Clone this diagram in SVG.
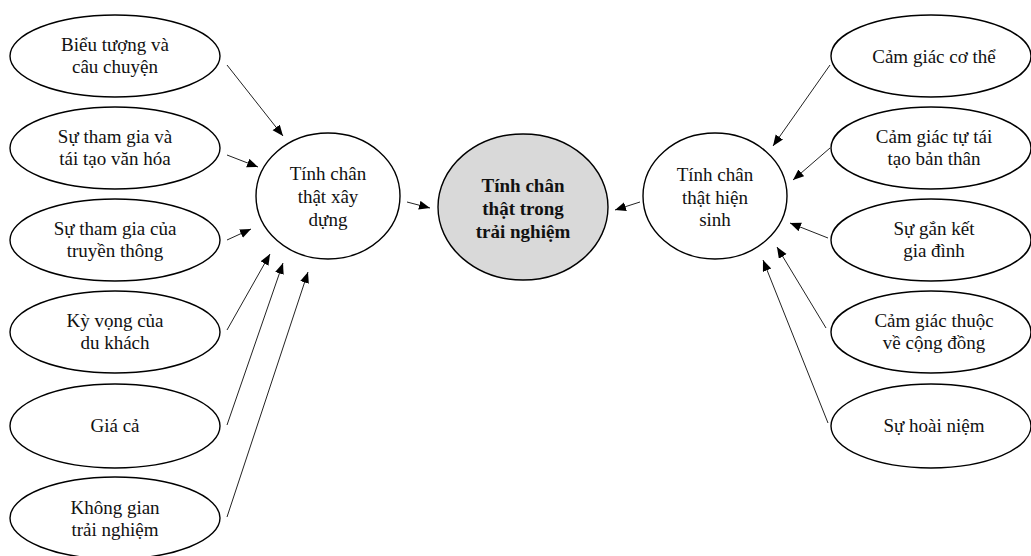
<svg xmlns="http://www.w3.org/2000/svg" width="1031" height="556" viewBox="0 0 1031 556">
<style>
.n{fill:#fff;stroke:#000;stroke-width:1.4}
.c{fill:#d9d9d9;stroke:#000;stroke-width:1.4}
text{font-family:"Liberation Serif","Times New Roman",serif;font-size:19px;fill:#111;text-anchor:middle}
.b{font-weight:bold}
.e line{stroke:#222;stroke-width:1;marker-end:url(#ah)}
</style>
<defs>
<marker id="ah" markerUnits="userSpaceOnUse" markerWidth="12" markerHeight="10" refX="11" refY="4.5" orient="auto">
<path d="M0,0 L11,4.5 L0,9 Z" fill="#000"/>
</marker>
</defs>
<g id="l1"><ellipse class="n" cx="115" cy="56" rx="105" ry="41"/><text x="115" y="51">Biểu tượng và</text><text x="115" y="73">câu chuyện</text></g>
<g id="l2"><ellipse class="n" cx="115" cy="148" rx="105" ry="41"/><text x="115" y="143">Sự tham gia và</text><text x="115" y="165">tái tạo văn hóa</text></g>
<g id="l3"><ellipse class="n" cx="115" cy="240" rx="105" ry="41"/><text x="115" y="235">Sự tham gia của</text><text x="115" y="257">truyền thông</text></g>
<g id="l4"><ellipse class="n" cx="115" cy="332" rx="105" ry="41"/><text x="115" y="327">Kỳ vọng của</text><text x="115" y="349">du khách</text></g>
<g id="l5"><ellipse class="n" cx="115" cy="426" rx="105" ry="42"/><text x="115" y="432">Giá cả</text></g>
<g id="l6"><ellipse class="n" cx="115" cy="518" rx="105" ry="41"/><text x="115" y="514">Không gian</text><text x="115" y="536">trải nghiệm</text></g>
<g id="m1"><ellipse class="n" cx="328" cy="196" rx="72" ry="63"/><text x="328" y="180">Tính chân</text><text x="328" y="203">thật xây</text><text x="328" y="226">dựng</text></g>
<g id="center"><ellipse class="c" cx="523" cy="207" rx="85" ry="73"/><text class="b" x="523" y="192">Tính chân</text><text class="b" x="523" y="215">thật trong</text><text class="b" x="523" y="238">trải nghiệm</text></g>
<g id="m2"><ellipse class="n" cx="715" cy="196" rx="72" ry="63"/><text x="715" y="181">Tính chân</text><text x="715" y="204">thật hiện</text><text x="715" y="226">sinh</text></g>
<g id="r1"><ellipse class="n" cx="931" cy="56" rx="100" ry="41"/><text x="934" y="63">Cảm giác cơ thể</text></g>
<g id="r2"><ellipse class="n" cx="931" cy="148" rx="100" ry="41"/><text x="934" y="143">Cảm giác tự tái</text><text x="934" y="165">tạo bản thân</text></g>
<g id="r3"><ellipse class="n" cx="931" cy="240" rx="100" ry="41"/><text x="934" y="235">Sự gắn kết</text><text x="934" y="257">gia đình</text></g>
<g id="r4"><ellipse class="n" cx="931" cy="332" rx="100" ry="41"/><text x="934" y="327">Cảm giác thuộc</text><text x="934" y="349">về cộng đồng</text></g>
<g id="r5"><ellipse class="n" cx="931" cy="426" rx="100" ry="42"/><text x="934" y="432">Sự hoài niệm</text></g>
<g id="connectors" class="e">
<line x1="227" y1="65" x2="283" y2="136"/>
<line x1="227" y1="155" x2="258" y2="167"/>
<line x1="227" y1="240" x2="251" y2="229"/>
<line x1="227" y1="330" x2="270" y2="254"/>
<line x1="227" y1="425" x2="283" y2="263"/>
<line x1="227" y1="517" x2="308" y2="272"/>
<line x1="407" y1="202" x2="430" y2="208"/>
<line x1="640" y1="202" x2="615" y2="210"/>
<line x1="830" y1="65" x2="773" y2="146"/>
<line x1="830" y1="148" x2="793" y2="180"/>
<line x1="828" y1="238" x2="790" y2="223"/>
<line x1="826" y1="328" x2="777" y2="247"/>
<line x1="828" y1="423" x2="763" y2="260"/>
</g>
</svg>
